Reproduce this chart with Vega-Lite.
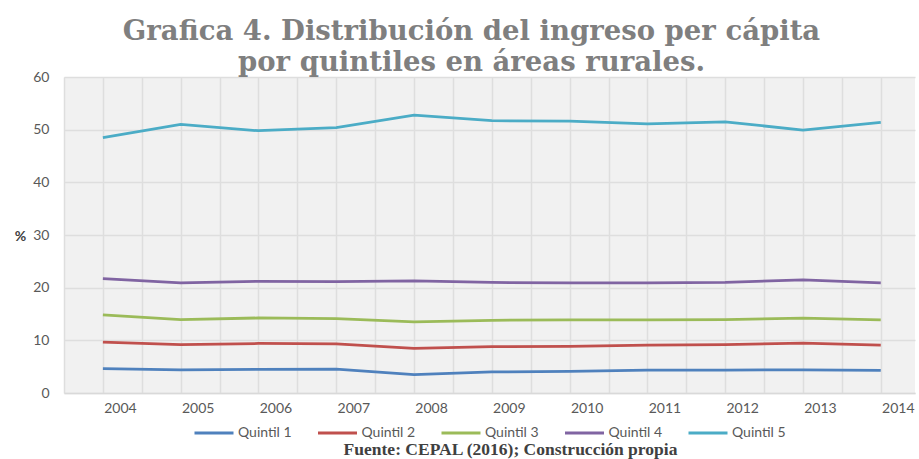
{
  "$schema": "https://vega.github.io/schema/vega-lite/v6.json",
  "width": 851,
  "height": 316,
  "autosize": {"type": "none"},
  "padding": {"left": 64, "top": 77, "right": 4, "bottom": 66},
  "background": "white",
  "config": {
    "view": {"fill": "#f1f1f1", "stroke": null}
  },
  "title": {
    "text": ["Grafica 4. Distribución del ingreso per cápita", "por quintiles en áreas rurales."],
    "font": "DejaVu Serif",
    "fontSize": 27.5,
    "fontWeight": "bold",
    "color": "#7f7f7f",
    "lineHeight": 31,
    "anchor": "middle",
    "frame": "group",
    "dx": -18,
    "dy": 10,
    "offset": 4
  },
  "data": {
    "values": [
      {"year": 2004, "q": "Quintil 1", "v": 4.65},
      {"year": 2005, "q": "Quintil 1", "v": 4.4},
      {"year": 2006, "q": "Quintil 1", "v": 4.5},
      {"year": 2007, "q": "Quintil 1", "v": 4.55},
      {"year": 2008, "q": "Quintil 1", "v": 3.5},
      {"year": 2009, "q": "Quintil 1", "v": 4.0},
      {"year": 2010, "q": "Quintil 1", "v": 4.1},
      {"year": 2011, "q": "Quintil 1", "v": 4.35},
      {"year": 2012, "q": "Quintil 1", "v": 4.35},
      {"year": 2013, "q": "Quintil 1", "v": 4.4},
      {"year": 2014, "q": "Quintil 1", "v": 4.3},
      {"year": 2004, "q": "Quintil 2", "v": 9.65},
      {"year": 2005, "q": "Quintil 2", "v": 9.2},
      {"year": 2006, "q": "Quintil 2", "v": 9.4},
      {"year": 2007, "q": "Quintil 2", "v": 9.35},
      {"year": 2008, "q": "Quintil 2", "v": 8.45},
      {"year": 2009, "q": "Quintil 2", "v": 8.8},
      {"year": 2010, "q": "Quintil 2", "v": 8.85},
      {"year": 2011, "q": "Quintil 2", "v": 9.1},
      {"year": 2012, "q": "Quintil 2", "v": 9.2},
      {"year": 2013, "q": "Quintil 2", "v": 9.45},
      {"year": 2014, "q": "Quintil 2", "v": 9.1},
      {"year": 2004, "q": "Quintil 3", "v": 14.85},
      {"year": 2005, "q": "Quintil 3", "v": 13.95},
      {"year": 2006, "q": "Quintil 3", "v": 14.25},
      {"year": 2007, "q": "Quintil 3", "v": 14.1},
      {"year": 2008, "q": "Quintil 3", "v": 13.5},
      {"year": 2009, "q": "Quintil 3", "v": 13.8},
      {"year": 2010, "q": "Quintil 3", "v": 13.9},
      {"year": 2011, "q": "Quintil 3", "v": 13.9},
      {"year": 2012, "q": "Quintil 3", "v": 13.95},
      {"year": 2013, "q": "Quintil 3", "v": 14.2},
      {"year": 2014, "q": "Quintil 3", "v": 13.9},
      {"year": 2004, "q": "Quintil 4", "v": 21.7},
      {"year": 2005, "q": "Quintil 4", "v": 20.9},
      {"year": 2006, "q": "Quintil 4", "v": 21.2},
      {"year": 2007, "q": "Quintil 4", "v": 21.15},
      {"year": 2008, "q": "Quintil 4", "v": 21.3},
      {"year": 2009, "q": "Quintil 4", "v": 21.0},
      {"year": 2010, "q": "Quintil 4", "v": 20.9},
      {"year": 2011, "q": "Quintil 4", "v": 20.9},
      {"year": 2012, "q": "Quintil 4", "v": 21.0},
      {"year": 2013, "q": "Quintil 4", "v": 21.5},
      {"year": 2014, "q": "Quintil 4", "v": 20.9},
      {"year": 2004, "q": "Quintil 5", "v": 48.5},
      {"year": 2005, "q": "Quintil 5", "v": 51.0},
      {"year": 2006, "q": "Quintil 5", "v": 49.8},
      {"year": 2007, "q": "Quintil 5", "v": 50.4},
      {"year": 2008, "q": "Quintil 5", "v": 52.75},
      {"year": 2009, "q": "Quintil 5", "v": 51.7},
      {"year": 2010, "q": "Quintil 5", "v": 51.6},
      {"year": 2011, "q": "Quintil 5", "v": 51.1},
      {"year": 2012, "q": "Quintil 5", "v": 51.5},
      {"year": 2013, "q": "Quintil 5", "v": 49.9},
      {"year": 2014, "q": "Quintil 5", "v": 51.4}
    ]
  },
  "mark": {"type": "line", "strokeWidth": 2.75},
  "encoding": {
    "x": {
      "field": "year",
      "type": "quantitative",
      "scale": {"domain": [2003.5, 2014.44], "nice": false, "zero": false},
      "axis": {
        "values": [2003.5, 2004, 2004.5, 2005, 2005.5, 2006, 2006.5, 2007, 2007.5, 2008, 2008.5, 2009, 2009.5, 2010, 2010.5, 2011, 2011.5, 2012, 2012.5, 2013, 2013.5, 2014],
        "labelExpr": "datum.value % 1 === 0 ? '' + datum.value : ''",
        "labelOffset": 17,
        "labelPadding": 8,
        "labelFont": "Lato",
        "labelFontSize": 14,
        "labelColor": "#595959",
        "labelFlush": false,
        "labelOverlap": false,
        "ticks": false,
        "domainColor": "#d9d9d9",
        "domainWidth": 1.5,
        "grid": true,
        "gridColor": "#dedede",
        "gridWidth": 1.5,
        "title": "Fuente: CEPAL (2016); Construcción propia",
        "titleFont": "Liberation Serif",
        "titleFontSize": 17.5,
        "titleFontWeight": "bold",
        "titleColor": "#404040",
        "titleX": 446,
        "titleY": 61,
        "titleBaseline": "alphabetic",
        "titleAlign": "center"
      }
    },
    "y": {
      "field": "v",
      "type": "quantitative",
      "scale": {"domain": [0, 60], "nice": false},
      "axis": {
        "values": [0, 10, 20, 30, 40, 50, 60],
        "labelPadding": 15,
        "labelFont": "Lato",
        "labelFontSize": 14,
        "labelColor": "#595959",
        "ticks": false,
        "domain": false,
        "grid": true,
        "gridColor": "#dedede",
        "gridWidth": 1.5,
        "title": "%",
        "titleAngle": 0,
        "titleX": -44,
        "titleY": 159,
        "titleAlign": "center",
        "titleBaseline": "middle",
        "titleFont": "Lato",
        "titleFontSize": 14,
        "titleFontWeight": "bold",
        "titleColor": "#404040"
      }
    },
    "color": {
      "field": "q",
      "type": "nominal",
      "scale": {
        "domain": ["Quintil 1", "Quintil 2", "Quintil 3", "Quintil 4", "Quintil 5"],
        "range": ["#4f81bd", "#c0504d", "#9bbb59", "#8064a2", "#4bacc6"]
      },
      "legend": {
        "title": null,
        "orient": "none",
        "legendX": 129,
        "legendY": 335,
        "direction": "horizontal",
        "symbolType": "stroke",
        "symbolSize": 1521,
        "symbolStrokeWidth": 3,
        "labelFont": "Lato",
        "labelFontSize": 14,
        "labelColor": "#595959",
        "labelOffset": 3,
        "columnPadding": 19.5
      }
    }
  }
}
